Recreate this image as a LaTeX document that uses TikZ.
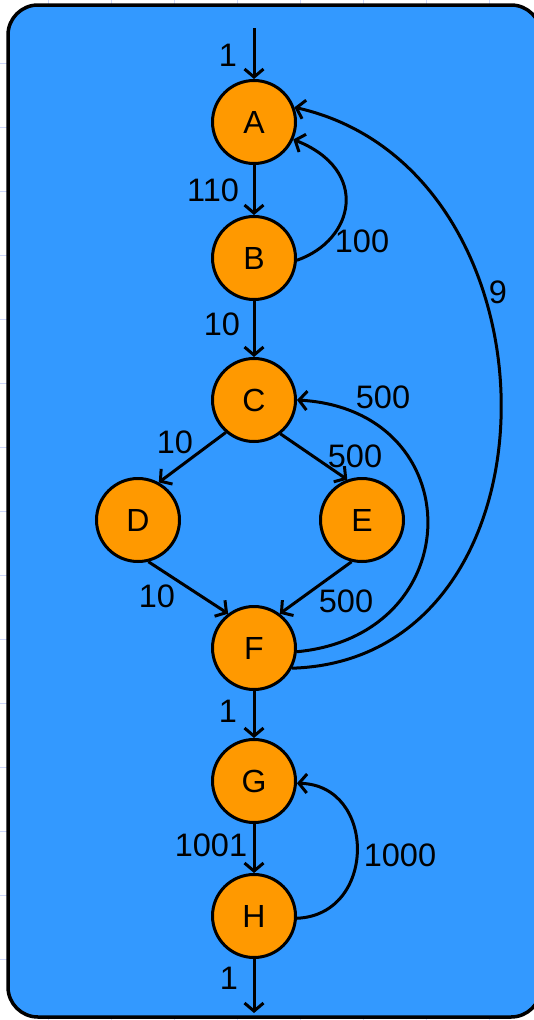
\documentclass[tikz,border=0pt]{standalone}
\usepackage{fontspec}
\setmainfont{Liberation Sans}
\usepackage{tikz}
\usetikzlibrary{arrows.meta}
\definecolor{panelblue}{RGB}{51,153,255}
\definecolor{nodeorange}{RGB}{255,153,0}
\definecolor{gridlav}{RGB}{205,214,250}

\begin{document}
\begin{tikzpicture}[x=1pt, y=-1pt,
  state/.style={circle, draw, line width=3pt, fill=nodeorange, minimum size=83pt, inner sep=0pt, font=\fontsize{32}{36}\selectfont},
  edge/.style={draw, line width=3pt, -{Straight Barb[length=8pt,width=19pt,line width=3pt]}},
  weight/.style={inner sep=0pt, font=\fontsize{32.5}{36}\selectfont}
]
  \useasboundingbox (0,0) rectangle (534,1020);
  \clip (0,0) rectangle (534,1020);

  % faint sheet grid behind the panel
  \foreach \x in {48,111,...,500} \draw[gridlav, line width=1pt] (\x,0) -- (\x,1020);
  \foreach \y in {63,127,...,1000} \draw[gridlav, line width=1pt] (0,\y) -- (534,\y);

  \draw[line width=3.5pt, fill=panelblue, rounded corners=30pt] (8,5) rectangle (541,1017);

  \node[state] (A) at (254,122) {A};
  \node[state] (B) at (254,258) {B};
  \node[state] (C) at (254,400) {C};
  \node[state] (D) at (138,520) {D};
  \node[state] (E) at (362,520) {E};
  \node[state] (F) at (254,648) {F};
  \node[state] (G) at (254,781) {G};
  \node[state] (H) at (254,916) {H};

  \coordinate (entry) at (254,28);
  \coordinate (exit) at (254,1013);

  \draw[edge] (entry) -- (A);
  \draw[edge] (A) -- (B);
  \draw[edge] (B.-3) .. controls (355,240) and (370,170) .. (A.-24);
  \draw[edge] (B) -- (C);
  \draw[edge] (C.229) -- (D.61);
  \draw[edge] (C.-52) -- (E.110);
  \draw[edge] (D.-76) -- (F.127);
  \draw[edge] (E.-104) -- (F.53);
  \draw[edge] (F.-5) .. controls (471,635) and (471,410) .. (C.east);
  \draw[edge] (F.-28) .. controls (570,660) and (570,170) .. (A.20);
  \draw[edge] (F) -- (G);
  \draw[edge] (G) -- (H);
  \draw[edge] (H.-3) .. controls (377,915) and (377,785) .. (G.-3);
  \draw[edge] (H) -- (exit);

  \node[weight] (w1) at (228,55) {1};
  \node[weight] (w110) at (213,190) {110};
  \node[weight] (w100) at (362,241) {100};
  \node[weight] (w9) at (498,292) {9};
  \node[weight] (w10a) at (222,324) {10};
  \node[weight] (w500a) at (383,397) {500};
  \node[weight] (w10b) at (175,442) {10};
  \node[weight] (w500b) at (355,456) {500};
  \node[weight] (w10c) at (157,596) {10};
  \node[weight] (w500c) at (346,601) {500};
  \node[weight] (w1b) at (228,711) {1};
  \node[weight] (w1001) at (211,845) {1001};
  \node[weight] (w1000) at (400,855) {1000};
  \node[weight] (w1c) at (229,978) {1};
\end{tikzpicture}
\end{document}
